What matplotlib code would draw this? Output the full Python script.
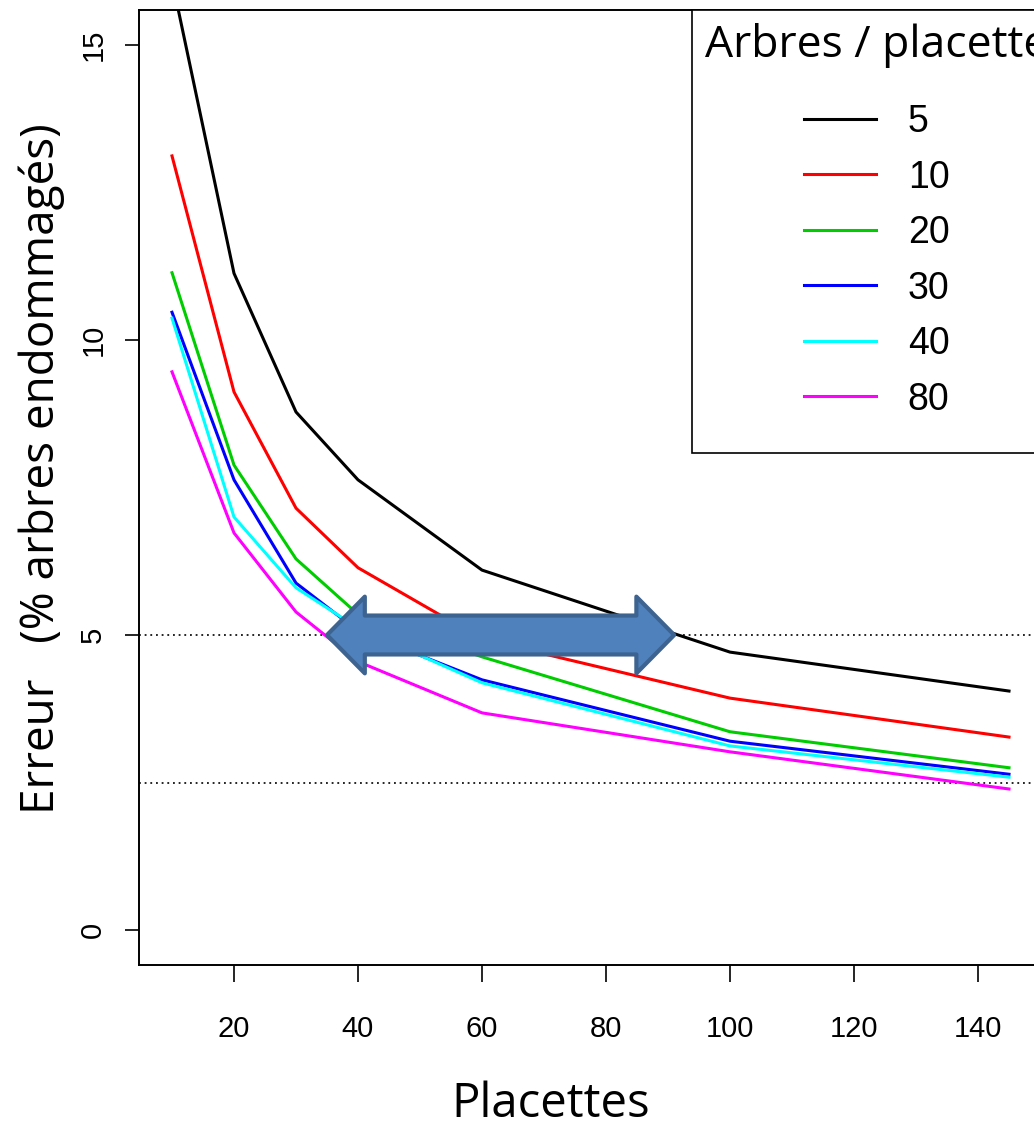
import numpy as np
import matplotlib.pyplot as plt
from matplotlib.patches import Polygon

placettes = [10, 20, 30, 40, 60, 100, 145]
arbres    = ["5", "10", "20", "30", "40", "80"]
couleurs  = ["black", "#FF0000", "#00CD00", "#0000FF", "#00FFFF", "#FF00FF"]

erreur = {
    "5":  [16.1, 11.13, 8.78, 7.63, 6.10, 4.71, 4.05],
    "10": [13.12, 9.12, 7.15, 6.14, 4.93, 3.93, 3.27],
    "20": [11.14, 7.88, 6.29, 5.35, 4.63, 3.36, 2.75],
    "30": [10.47, 7.63, 5.88, 5.07, 4.24, 3.20, 2.64],
    "40": [10.37, 7.00, 5.80, 5.12, 4.19, 3.12, 2.59],
    "80": [9.46, 6.73, 5.39, 4.55, 3.68, 3.02, 2.39],
}

seuils      = [5, 2.5]
fleche_x    = (35, 91)
fleche_y    = 5

W, H = 1034, 1121
fig = plt.figure(figsize=(W / 100, H / 100), dpi=100)

xlim = (4.6, 150.4)
ylim = (-0.6, 15.6)
px_x = 6.2   # pixels per x unit
px_y = 59.0  # pixels per y unit
left_px = 172 + (xlim[0] - 10) * px_x
ax_w = (xlim[1] - xlim[0]) * px_x
ax = fig.add_axes([left_px / W,
                   1 - (930 - ylim[0] * px_y) / H,
                   ax_w / W,
                   (ylim[1] - ylim[0]) * px_y / H])

for k, c in zip(arbres, couleurs):
    ax.plot(placettes, erreur[k], color=c, lw=2.2, label=k,
            solid_joinstyle="round", zorder=3)

for s in seuils:
    ax.axhline(s, color="black", lw=1.2, ls=(0, (1.1, 2.3)), zorder=2)

# double arrow
x0, x1 = fleche_x
hl, hh, bh = 6.1, 0.65, 0.33
pts = [(x0, fleche_y), (x0 + hl, fleche_y + hh), (x0 + hl, fleche_y + bh),
       (x1 - hl, fleche_y + bh), (x1 - hl, fleche_y + hh), (x1, fleche_y),
       (x1 - hl, fleche_y - hh), (x1 - hl, fleche_y - bh),
       (x0 + hl, fleche_y - bh), (x0 + hl, fleche_y - hh)]
ax.add_patch(Polygon(pts, closed=True, facecolor="#4F81BD", edgecolor="#3D6390",
                     lw=3, joinstyle="round", zorder=5))

ax.set_xlim(*xlim)
ax.set_ylim(*ylim)
ax.set_xticks([20, 40, 60, 80, 100, 120, 140])
ax.set_yticks([0, 5, 10, 15])
for sp in ax.spines.values():
    sp.set_linewidth(1.4)
ax.tick_params(axis="x", length=12, width=1.2, labelsize=21, pad=23.5)
ax.tick_params(axis="y", length=10, width=1.2, labelsize=21, pad=12.5)
for lab in ax.get_xticklabels() + ax.get_yticklabels():
    lab.set_fontfamily("Liberation Sans")
for lab in ax.get_yticklabels():
    lab.set_rotation(90)
    lab.set_va("center")

ax.set_xlabel("Placettes", fontsize=34, fontfamily="Open Sans")
ax.xaxis.set_label_coords((551 - left_px) / ax_w, -0.12)
ax.set_ylabel("Erreur   (% arbres endommagés)", fontsize=33, fontfamily="Open Sans")
ax.yaxis.set_label_coords(-0.081, 0.52)

leg = ax.legend(loc="upper left", bbox_to_anchor=((692 - left_px) / ax_w, 1.0),
                title="Arbres / placette", frameon=True, fancybox=False,
                edgecolor="black", framealpha=1, fontsize=27, handlelength=1.92,
                handletextpad=0.85, labelspacing=0.52, borderpad=0.35,
                borderaxespad=0)
leg.get_frame().set_linewidth(1.2)
leg.get_title().set_fontsize(32)
leg.get_title().set_fontfamily("Open Sans")
for t in leg.get_texts():
    t.set_fontfamily("Liberation Sans")
# spacing between title and entries, and below the entries
leg._legend_box.sep = 10.4
leg._legend_handle_box.pad = 15.8
leg.set_zorder(6)

fig.savefig("out.png", dpi=100)
